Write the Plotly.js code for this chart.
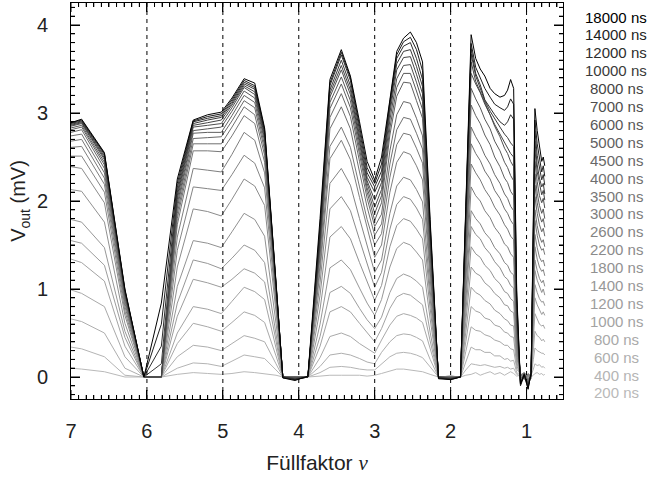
<!DOCTYPE html>
<html>
<head>
<meta charset="utf-8">
<script src="https://cdn.plot.ly/plotly-3.0.1.min.js"></script>
<style>html,body{margin:0;padding:0;background:#fff;}#chart{width:654px;height:481px;}</style>
</head>
<body>
<div id="chart"></div>
<script>
// filling factor (x axis)
const nu = [7.00, 6.86, 6.56, 6.29, 6.04, 5.81, 5.60, 5.39, 5.20, 5.02,
            4.88, 4.72, 4.58, 4.45, 4.30, 4.21, 4.05, 3.88, 3.72, 3.59,
            3.44, 3.32, 3.20, 3.10, 3.00, 2.91, 2.80, 2.71, 2.62, 2.53,
            2.45, 2.37, 2.27, 2.16, 2.00, 1.87, 1.80, 1.73, 1.67, 1.61,
            1.55, 1.48, 1.42, 1.35, 1.29, 1.25, 1.21, 1.17, 1.13, 1.08,
            1.03, 0.98, 0.94, 0.91, 0.89, 0.86, 0.83, 0.80, 0.78, 0.76];

const timeLabels = ['200 ns','400 ns','600 ns','800 ns','1000 ns','1200 ns','1400 ns','1800 ns',
                    '2200 ns','2600 ns','3000 ns','3500 ns','4000 ns','4500 ns','5000 ns','6000 ns',
                    '7000 ns','8000 ns','10000 ns','12000 ns','14000 ns','18000 ns'];

const s200 = [0.10,0.09,0.06,0.00,0.00, 0.00,0.03,0.05,0.04,0.03, 0.04,0.06,0.05,0.04,0.02, 0.00,0.00,0.00,
  0.01,0.02,0.02,0.02,0.02,0.01,0.02, 0.04,0.07,0.09,0.09,0.08,0.07,0.06,0.03, 0.00,0.01,0.00, 0.02,0.03,
  0.05,0.02,0.04,0.06,0.03,0.05,0.02,0.04,0.06,0.04, 0.01, 0.02,-0.01,0.03,0.00, 0.02,0.04, 0.05,0.03,0.04,0.02,0.03];
const s400 = [0.34,0.32,0.23,0.02,0.00, 0.00,0.10,0.16,0.15,0.12, 0.18,0.25,0.23,0.21,0.08, 0.00,0.00,0.00,
  0.05,0.11,0.12,0.11,0.09,0.08,0.08, 0.15,0.23,0.27,0.28,0.27,0.25,0.22,0.11, 0.00,0.00,0.00, 0.08,0.15,
  0.14,0.13,0.14,0.12,0.11,0.12,0.10,0.11,0.09,0.10, 0.03, 0.01,0.03,0.00,0.02, 0.09,0.15, 0.13,0.14,0.11,0.12,0.10];
const s600 = [0.66,0.63,0.50,0.10,0.00, 0.00,0.23,0.36,0.34,0.30, 0.38,0.47,0.44,0.40,0.15, 0.00,0.00,0.00,
  0.12,0.25,0.27,0.25,0.21,0.17,0.15, 0.28,0.40,0.47,0.49,0.48,0.45,0.41,0.20, 0.00,0.01,0.00, 0.17,0.34,
  0.31,0.31,0.28,0.28,0.24,0.24,0.20,0.21,0.18,0.19, 0.05, 0.02,-0.01,0.03,0.01, 0.20,0.33, 0.30,0.28,0.27,0.27,0.25];
const s800 = [0.99,0.95,0.80,0.23,0.00, 0.00,0.38,0.61,0.57,0.52, 0.62,0.74,0.70,0.62,0.24, 0.00,0.00,0.00,
  0.22,0.46,0.50,0.46,0.38,0.32,0.27, 0.42,0.59,0.69,0.72,0.70,0.67,0.62,0.31, 0.00,-0.01,0.00, 0.29,0.57,
  0.53,0.52,0.48,0.46,0.42,0.40,0.36,0.36,0.32,0.31, 0.09, 0.03,0.00,0.02,-0.01, 0.31,0.52, 0.47,0.45,0.41,0.43,0.40];
const s1000 = [1.34,1.30,1.09,0.35,0.00, 0.00,0.50,0.80,0.77,0.72, 0.86,1.02,0.97,0.88,0.33, 0.00,0.00,0.00,
  0.35,0.74,0.80,0.74,0.61,0.50,0.40, 0.55,0.78,0.91,0.95,0.93,0.88,0.82,0.41, 0.00,0.00,0.00, 0.40,0.80,
  0.75,0.73,0.67,0.65,0.59,0.57,0.51,0.50,0.46,0.45, 0.13, 0.02,0.04,-0.02,0.01, 0.43,0.72, 0.66,0.60,0.58,0.59,0.55];
const s1200 = [1.55,1.52,1.27,0.45,0.00, 0.00,0.69,1.11,1.07,1.02, 1.11,1.23,1.18,1.08,0.41, 0.00,0.00,0.00,
  0.46,0.96,1.03,0.95,0.78,0.65,0.55, 0.68,0.96,1.12,1.17,1.14,1.09,1.02,0.51, 0.00,0.00,0.00, 0.51,1.02,
  0.96,0.93,0.87,0.83,0.76,0.72,0.66,0.64,0.59,0.58, 0.17, 0.01,0.04,-0.01,0.03, 0.54,0.90, 0.82,0.77,0.71,0.74,0.70];
const s1400 = [1.79,1.76,1.47,0.52,0.00, 0.00,0.84,1.33,1.29,1.23, 1.35,1.50,1.44,1.30,0.49, 0.00,0.00,0.00,
  0.60,1.24,1.33,1.22,1.01,0.84,0.70, 0.88,1.25,1.46,1.53,1.50,1.42,1.33,0.66, 0.00,0.00,0.00, 0.63,1.25,
  1.18,1.15,1.07,1.02,0.95,0.90,0.82,0.81,0.75,0.73, 0.22, 0.03,-0.02,0.02,0.00, 0.63,1.05, 0.96,0.89,0.85,0.86,0.81];
const s1800 = [2.13,2.11,1.76,0.61,0.00, 0.00,1.03,1.55,1.52,1.47, 1.65,1.86,1.79,1.60,0.61, 0.00,0.00,0.00,
  0.77,1.59,1.71,1.57,1.30,1.08,0.87, 1.04,1.48,1.72,1.80,1.77,1.68,1.57,0.78, 0.00,0.01,0.00, 0.74,1.48,
  1.40,1.36,1.27,1.21,1.12,1.06,0.97,0.95,0.89,0.86, 0.26, 0.02,0.05,-0.02,0.02, 0.73,1.21, 1.10,1.04,0.96,1.00,0.93];
const s2200 = [2.39,2.37,1.98,0.70,0.00, 0.00,1.25,1.91,1.88,1.83, 2.02,2.25,2.17,1.95,0.74, 0.00,0.00,0.00,
  0.93,1.91,2.05,1.89,1.56,1.29,1.02, 1.19,1.68,1.96,2.05,2.02,1.92,1.79,0.89, 0.00,0.00,0.00, 0.86,1.71,
  1.62,1.57,1.47,1.40,1.31,1.24,1.14,1.11,1.04,1.01, 0.30, 0.04,0.01,0.03,-0.02, 0.80,1.33, 1.21,1.12,1.07,1.10,1.03];
const s2600 = [2.51,2.51,2.10,0.75,0.00, 0.00,1.44,2.16,2.14,2.12, 2.30,2.52,2.43,2.15,0.82, 0.00,0.00,0.00,
  1.07,2.20,2.37,2.18,1.80,1.49,1.19, 1.33,1.86,2.17,2.27,2.24,2.13,1.99,0.99, 0.00,0.00,0.00, 0.95,1.89,
  1.80,1.74,1.64,1.57,1.47,1.40,1.30,1.27,1.19,1.16, 0.35, 0.02,0.05,0.00,0.03, 0.89,1.48, 1.34,1.25,1.20,1.22,1.15];
const s3000 = [2.61,2.62,2.19,0.80,0.00, 0.00,1.59,2.37,2.35,2.33, 2.53,2.78,2.69,2.32,0.88, 0.00,0.00,0.00,
  1.20,2.48,2.69,2.47,2.04,1.69,1.36, 1.50,2.10,2.44,2.56,2.53,2.40,2.24,1.12, 0.00,0.00,0.00, 1.08,2.16,
  2.06,2.00,1.89,1.81,1.70,1.62,1.51,1.48,1.40,1.36, 0.40, 0.03,-0.02,0.04,0.01, 0.97,1.62, 1.47,1.36,1.31,1.33,1.26];
const s3500 = [2.68,2.70,2.26,0.84,0.00, 0.00,1.73,2.57,2.57,2.56, 2.74,2.97,2.88,2.44,0.93, 0.00,0.00,0.00,
  1.27,2.62,2.84,2.61,2.16,1.79,1.50, 1.63,2.27,2.64,2.77,2.75,2.60,2.43,1.21, 0.00,-0.01,0.00, 1.21,2.42,
  2.32,2.24,2.13,2.04,1.93,1.84,1.73,1.68,1.60,1.56, 0.47, 0.00,0.04,-0.03,0.02, 1.07,1.78, 1.61,1.50,1.44,1.46,1.39];
const s4000 = [2.74,2.76,2.32,0.87,0.00, 0.00,1.80,2.65,2.65,2.65, 2.84,3.07,2.98,2.52,0.96, 0.00,0.00,0.00,
  1.37,2.82,3.07,2.82,2.33,1.93,1.61, 1.74,2.42,2.81,2.95,2.93,2.77,2.59,1.29, 0.00,0.00,0.00, 1.33,2.65,
  2.54,2.46,2.34,2.25,2.12,2.03,1.91,1.86,1.78,1.73, 0.52, 0.04,-0.03,0.03,0.00, 1.14,1.90, 1.72,1.60,1.53,1.56,1.48];
const s4500 = [2.78,2.81,2.37,0.90,0.00, 0.00,1.86,2.71,2.72,2.73, 2.91,3.14,3.06,2.58,0.98, 0.00,0.00,0.00,
  1.43,2.95,3.22,2.96,2.45,2.03,1.71, 1.85,2.57,2.98,3.13,3.11,2.94,2.74,1.37, 0.00,0.00,0.00, 1.42,2.84,
  2.73,2.64,2.52,2.42,2.30,2.20,2.08,2.03,1.94,1.89, 0.56, -0.02,0.03,-0.04,0.02, 1.23,2.05, 1.86,1.73,1.65,1.69,1.60];
const s5000 = [2.81,2.84,2.41,0.92,0.00, 0.00,1.92,2.77,2.78,2.78, 2.97,3.20,3.12,2.63,1.00, 0.00,0.00,0.00,
  1.48,3.05,3.33,3.06,2.53,2.10,1.78, 1.98,2.75,3.19,3.35,3.34,3.14,2.94,1.47, 0.00,-0.01,0.00, 1.55,3.09,
  2.97,2.88,2.75,2.64,2.50,2.39,2.26,2.21,2.11,2.06, 0.62, -0.04,0.03,-0.06,0.02, 1.31,2.18, 1.98,1.84,1.76,1.80,1.70];
const s6000 = [2.83,2.86,2.44,0.94,0.00, 0.00,1.97,2.80,2.82,2.84, 3.02,3.25,3.17,2.68,1.02, 0.00,-0.01,0.00,
  1.52,3.12,3.41,3.14,2.59,2.15,1.86, 2.06,2.83,3.29,3.45,3.45,3.25,3.04,1.52, 0.00,-0.01,0.00, 1.64,3.28,
  3.16,3.06,2.93,2.82,2.68,2.57,2.44,2.38,2.29,2.23, 0.67, -0.05,0.02,-0.07,0.03, 1.39,2.31, 2.09,1.95,1.86,1.91,1.80];
const s7000 = [2.85,2.88,2.47,0.95,0.00, 0.00,2.02,2.84,2.86,2.88, 3.06,3.29,3.21,2.71,1.03, 0.00,-0.01,0.00,
  1.55,3.18,3.49,3.21,2.65,2.20,1.93, 2.13,2.92,3.39,3.54,3.55,3.35,3.13,1.56, 0.00,-0.01,0.00, 1.73,3.45,
  3.33,3.23,3.10,2.98,2.85,2.73,2.60,2.54,2.45,2.39, 0.71, -0.06,0.03,-0.08,0.02, 1.47,2.45, 2.22,2.06,1.98,2.03,1.92];
const s8000 = [2.86,2.89,2.49,0.96,0.00, 0.00,2.06,2.86,2.89,2.92, 3.09,3.31,3.24,2.74,1.04, 0.00,-0.02,0.00,
  1.58,3.22,3.54,3.26,2.69,2.23,2.01, 2.21,3.00,3.49,3.63,3.64,3.44,3.22,1.61, 0.00,-0.02,0.00, 1.79,3.58,
  3.36,3.24,3.10,2.98,2.87,2.76,2.66,2.60,2.54,2.50, 0.75, -0.07,0.02,-0.09,0.04, 1.55,2.58, 2.33,2.18,2.07,2.12,2.01];
const s10000 = [2.87,2.90,2.51,0.97,0.00, 0.15,2.10,2.88,2.92,2.95, 3.11,3.33,3.27,2.77,1.05, 0.00,-0.02,0.00,
  1.61,3.26,3.60,3.31,2.74,2.27,2.10, 2.27,3.06,3.56,3.70,3.72,3.53,3.30,1.65, -0.01,-0.02,0.00, 1.84,3.67,
  3.42,3.28,3.14,3.02,2.93,2.84,2.76,2.72,2.66,2.62, 0.79, -0.08,0.03,-0.10,0.03, 1.61,2.68, 2.41,2.26,2.16,2.20,2.08];
const s12000 = [2.88,2.91,2.53,0.98,0.00, 0.35,2.15,2.90,2.94,2.97, 3.13,3.35,3.29,2.79,1.06, 0.00,-0.03,0.00,
  1.65,3.31,3.66,3.37,2.80,2.32,2.16, 2.34,3.10,3.62,3.76,3.80,3.62,3.38,1.69, -0.01,-0.02,0.00, 1.87,3.73,
  3.45,3.32,3.15,3.05,2.98,2.90,2.86,2.90,2.98,2.93, 0.88, -0.09,0.04,-0.11,0.02, 1.68,2.80, 2.52,2.36,2.24,2.30,2.18];
const s14000 = [2.89,2.92,2.54,0.99,0.00, 0.60,2.20,2.91,2.96,2.99, 3.15,3.37,3.31,2.81,1.07, -0.01,-0.03,0.00,
  1.72,3.34,3.69,3.40,2.85,2.38,2.20, 2.42,3.13,3.66,3.81,3.86,3.72,3.48,1.74, -0.01,-0.03,0.00, 1.90,3.79,
  3.52,3.40,3.28,3.18,3.10,3.06,3.03,3.07,3.16,3.10, 0.93, -0.10,0.02,-0.13,0.04, 1.75,2.92, 2.65,2.48,2.33,2.40,2.28];
const s18000 = [2.89,2.93,2.55,1.00,0.00, 0.84,2.25,2.92,2.98,3.01, 3.17,3.39,3.34,2.83,1.08, -0.01,-0.04,0.01,
  1.80,3.38,3.72,3.42,2.90,2.45,2.24, 2.50,3.15,3.70,3.85,3.92,3.80,3.58,1.79, -0.02,-0.03,0.00, 1.94,3.89,
  3.62,3.50,3.42,3.28,3.22,3.18,3.20,3.26,3.38,3.28, 0.98, -0.08,0.03,-0.14,0.05, 1.83,3.05, 2.80,2.62,2.45,2.50,2.40];

const series = [s200, s400, s600, s800, s1000, s1200, s1400, s1800, s2200, s2600, s3000,
                s3500, s4000, s4500, s5000, s6000, s7000, s8000, s10000, s12000, s14000, s18000];

// integer filling factors marked by dashed lines
const integerFillings = [6, 5, 4, 3, 2, 1];

const n = series.length;
function grayFor(i) {
  const g = Math.round(185 * Math.pow((n - 1 - i) / (n - 1), 0.6));
  return 'rgb(' + g + ',' + g + ',' + g + ')';
}

const traces = series.map((y, i) => ({
  x: nu, y: y, type: 'scatter', mode: 'lines',
  line: {color: grayFor(i), width: 1},
  hoverinfo: 'skip'
}));

const shapes = integerFillings.map(v => ({
  type: 'line', xref: 'x', yref: 'paper', x0: v, x1: v, y0: 0, y1: 1,
  line: {color: '#000', width: 1, dash: '4px,4px'}
}));

// tick marks on all four sides (major every 1, minor every 0.1), drawn inside the frame
const plotW = 654 - 71 - 91, plotH = 481 - 3 - 82;
const tickLine = {color: '#000', width: 1};
for (let t = 6; t <= 70; t++) {
  const v = t / 10, len = (t % 10 === 0 ? 9 : 4) / plotH;
  shapes.push({type: 'line', xref: 'x', yref: 'paper', x0: v, x1: v, y0: 0, y1: len, line: tickLine});
  shapes.push({type: 'line', xref: 'x', yref: 'paper', x0: v, x1: v, y0: 1 - len, y1: 1, line: tickLine});
}
for (let t = -2; t <= 42; t++) {
  const v = t / 10, len = (t % 10 === 0 ? 9 : 4) / plotW;
  shapes.push({type: 'line', xref: 'paper', yref: 'y', x0: 0, x1: len, y0: v, y1: v, line: tickLine});
  shapes.push({type: 'line', xref: 'paper', yref: 'y', x0: 1 - len, x1: 1, y0: v, y1: v, line: tickLine});
}

// right-hand labels, top (longest time) to bottom
const annotations = [];
for (let j = 0; j < n; j++) {
  const i = n - 1 - j;
  const py = 17 + j * 17.9;
  annotations.push({
    xref: 'paper', yref: 'paper', x: 1.108, y: (399 - py) / 396,
    xanchor: 'center', yanchor: 'middle', showarrow: false,
    text: timeLabels[i],
    font: {family: 'Liberation Sans, Arial, sans-serif', size: 15, color: grayFor(i)}
  });
}

const axisCommon = {
  showline: true, linecolor: '#000', linewidth: 1, mirror: 'allticks',
  ticks: 'inside', ticklen: 9, tickcolor: '#000',
  tickmode: 'linear', tick0: 0, dtick: 1,
  minor: {ticks: 'inside', ticklen: 4, dtick: 0.1},
  showgrid: false, zeroline: false,
  tickfont: {family: 'Liberation Sans, Arial, sans-serif', size: 20, color: '#222'}
};

const layout = {
  width: 654, height: 481,
  margin: {l: 71, r: 91, t: 3, b: 82},
  showlegend: false,
  xaxis: Object.assign({}, axisCommon, {
    range: [7.0, 0.52],
    ticklabelstandoff: 14,
    title: {text: 'Füllfaktor <span style="font-family:\'Liberation Serif\'"><i>ν</i></span>',
            font: {family: 'Liberation Sans, Arial, sans-serif', size: 21, color: '#222'}, standoff: 14}
  }),
  yaxis: Object.assign({}, axisCommon, {
    range: [-0.25, 4.25],
    ticklabelstandoff: 18,
    title: {text: 'V<sub>out</sub> (mV)',
            font: {family: 'Liberation Sans, Arial, sans-serif', size: 20, color: '#222'}, standoff: 5}
  }),
  shapes: shapes,
  annotations: annotations
};

Plotly.newPlot('chart', traces, layout, {staticPlot: true, displayModeBar: false});
</script>
</body>
</html>
